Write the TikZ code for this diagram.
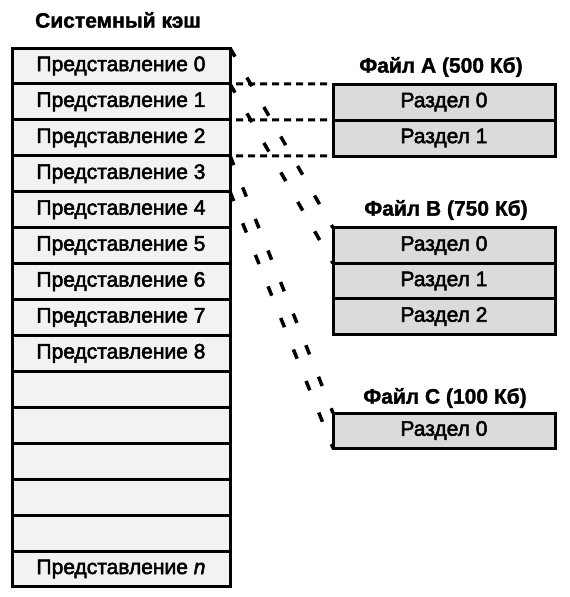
\documentclass[tikz,border=0pt]{standalone}
\usepackage{fontspec}
\setmainfont{Liberation Sans}
\newfontfamily\medfont[FakeBold=2.5]{Liberation Sans}
\newfontfamily\titlefont[FakeBold=1.5]{Liberation Sans Bold}
\newcommand{\fsz}{\fontsize{21}{25}\selectfont}
\begin{document}
\begin{tikzpicture}[x=1pt,y=-1pt,
  viewrow/.style={draw, line width=3pt, fill=black!5, minimum width=218pt, minimum height=35.93pt, inner sep=0pt, outer sep=0pt, font=\medfont\fsz},
  partbox/.style={draw, line width=3pt, fill=black!14, minimum width=222pt, minimum height=35.5pt, inner sep=0pt, outer sep=0pt, font=\medfont\fsz},
  titletext/.style={font=\titlefont\fsz, inner sep=0pt},
  hdash/.style={line width=3pt, dash pattern=on 7pt off 5pt, shorten <=6pt, shorten >=6pt},
  ddash/.style={line width=3.5pt, dash pattern=on 10pt off 24pt}]
\useasboundingbox (0,0) rectangle (570,597);
\node[titletext] (sys) at (118,20) {Системный кэш};
\foreach \i/\t in {0/Представление 0,1/Представление 1,2/Представление 2,3/Представление 3,4/Представление 4,5/Представление 5,6/Представление 6,7/Представление 7,8/Представление 8,9/{},10/{},11/{},12/{},13/{},14/{Представление \textit{n}}}
  \node[viewrow] (v\i) at (121,{48+35.93*(\i+0.5)}) {\t};
\node[titletext] (fa) at (441,67) {Файл A (500 Кб)};
\node[partbox, minimum height=36pt] (a0) at (444,102) {Раздел 0};
\node[partbox, minimum height=36pt] (a1) at (444,138) {Раздел 1};
\node[titletext] (fb) at (446,210) {Файл B (750 Кб)};
\node[partbox] (b0) at (444,245.5) {Раздел 0};
\node[partbox] (b1) at (444,281) {Раздел 1};
\node[partbox] (b2) at (444,316.5) {Раздел 2};
\node[titletext] (fc) at (445,398) {Файл C (100 Кб)};
\node[partbox, minimum height=35pt] (c0) at (444,430.5) {Раздел 0};
\draw[hdash] (v1.north east) -- (a0.north west);
\draw[hdash] (v1.south east) -- (a1.north west);
\draw[hdash] (v2.south east) -- (a1.south west);
\draw[ddash] (v0.north east) -- (b0.north west);
\draw[ddash] (v0.south east) -- (b0.south west);
\draw[ddash] (v3.north east) -- (c0.north west);
\draw[ddash] (v3.south east) -- (c0.south west);
\end{tikzpicture}
\end{document}
